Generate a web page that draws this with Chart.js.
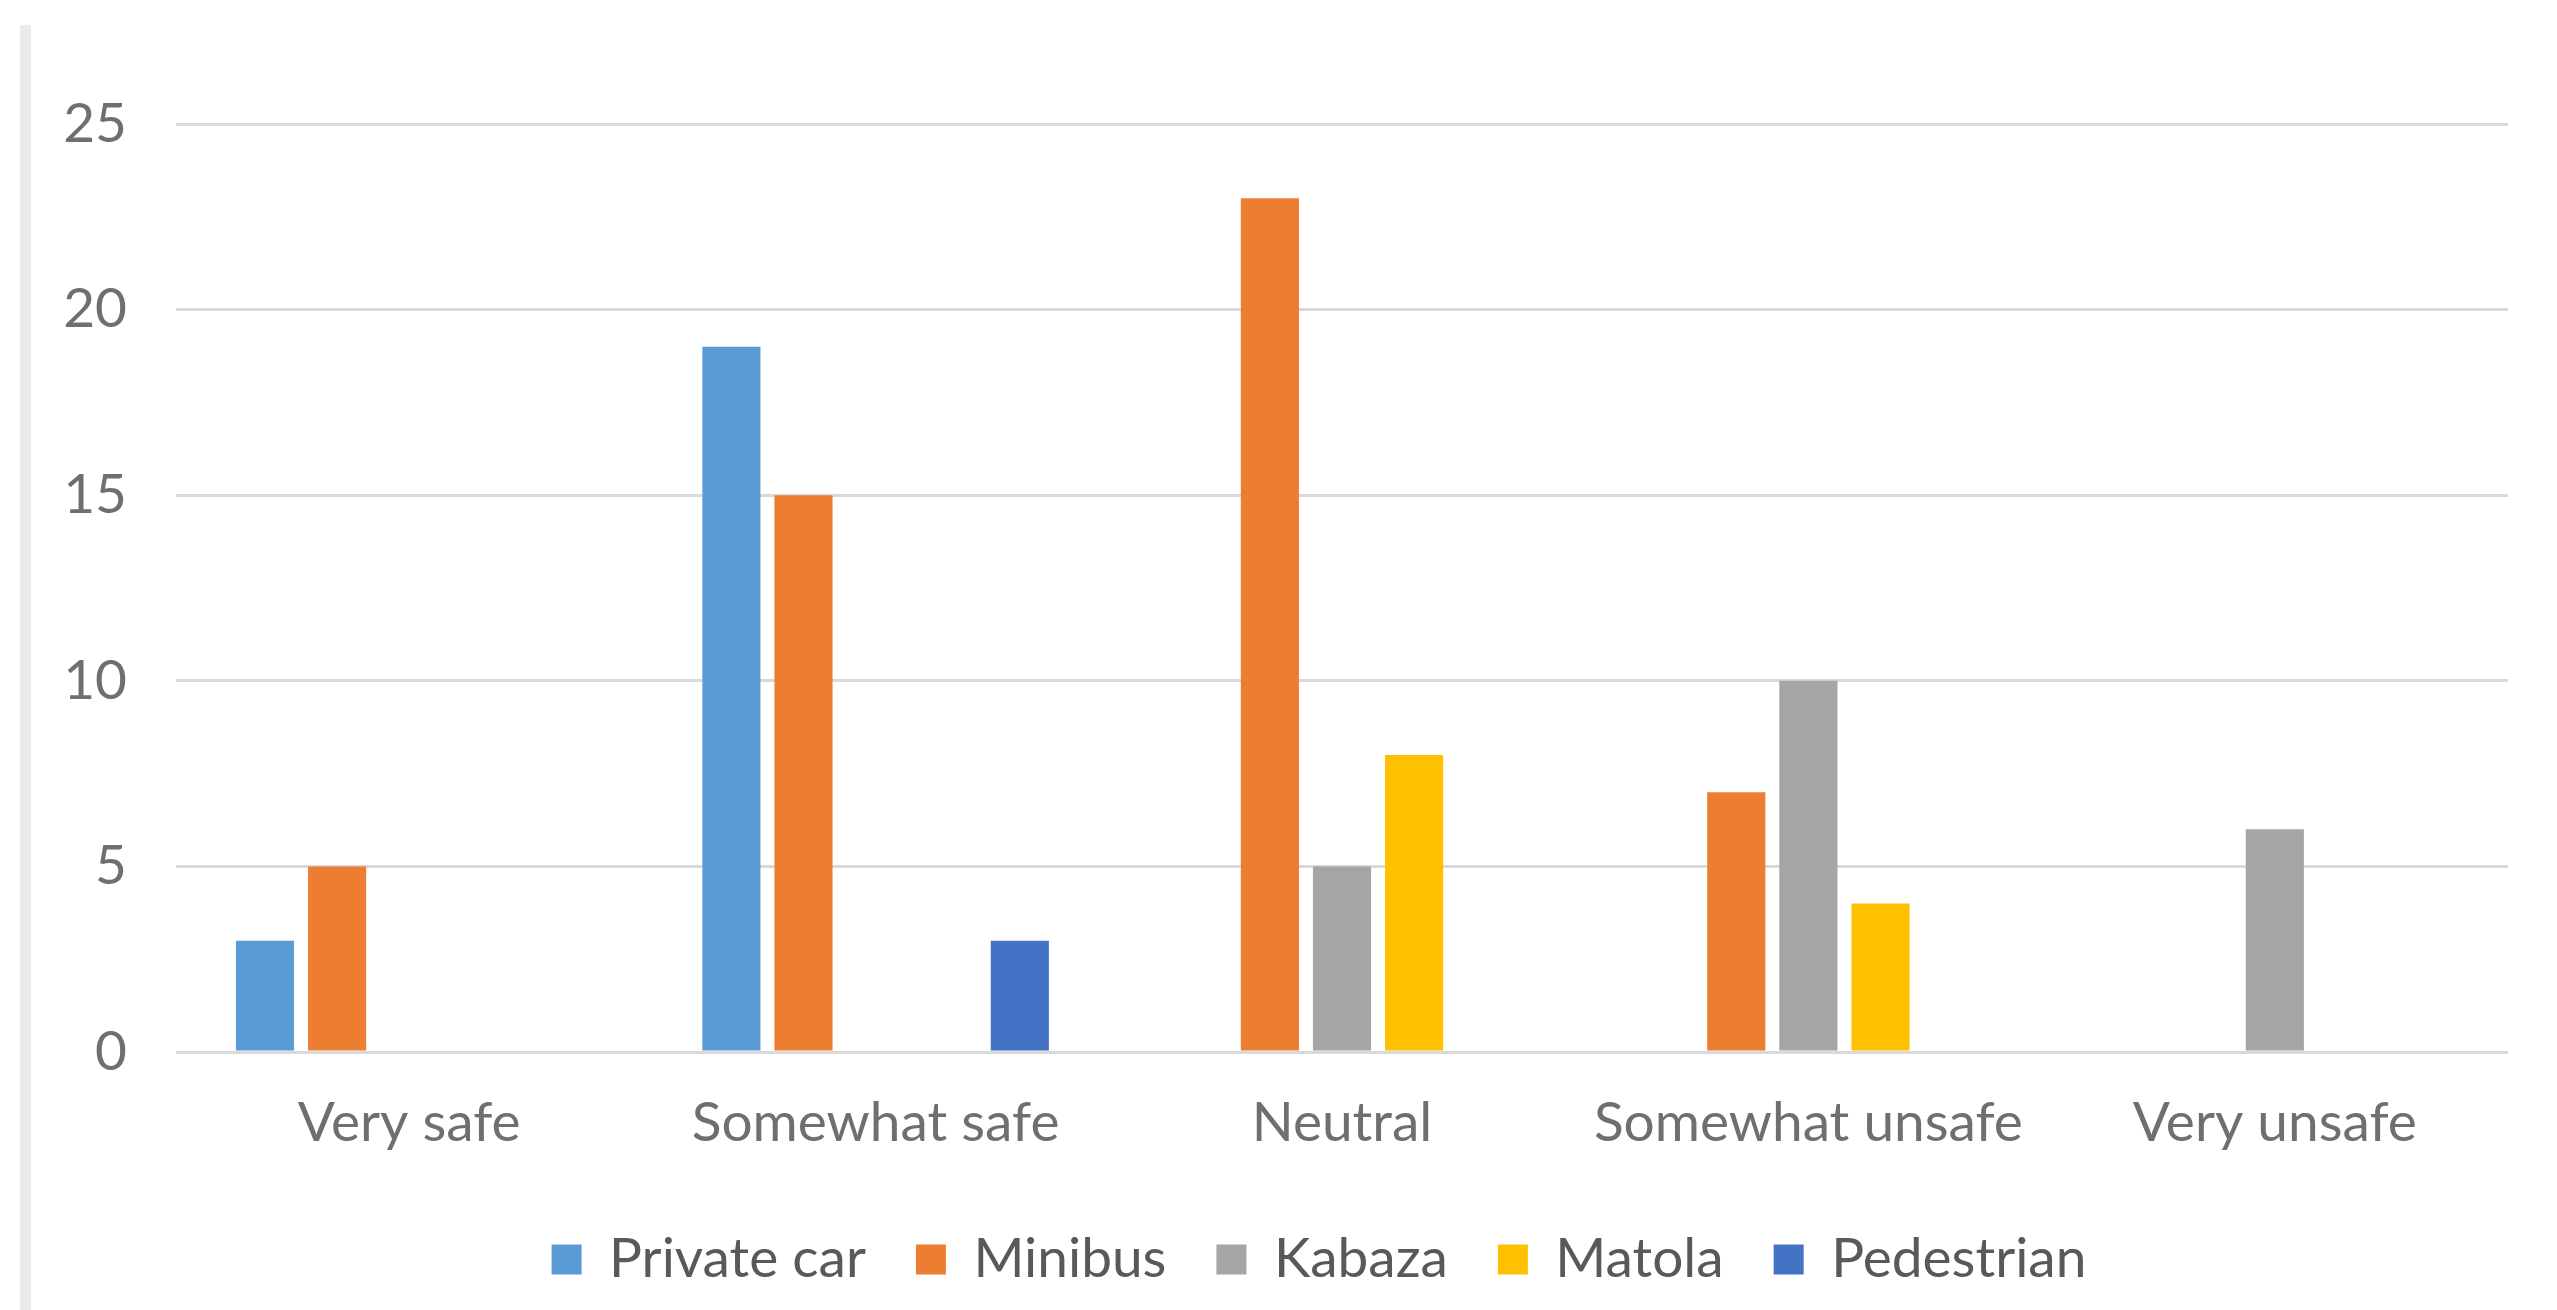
<!DOCTYPE html>
<html>
<head>
<meta charset="utf-8">
<script src="https://cdn.jsdelivr.net/npm/chart.js@4/dist/chart.umd.min.js"></script>
<style>
  html, body { margin: 0; padding: 0; background: #ffffff; }
  #wrap { position: relative; width: 2557px; height: 1310px; }
  #leftbar { position: absolute; left: 20px; top: 25px; width: 11px; height: 1285px; background: #ebebeb; }
  #c { position: absolute; left: 0; top: 0; }
</style>
</head>
<body>
<div id="wrap">
  <div id="leftbar"></div>
  <canvas id="c" width="2557" height="1310"></canvas>
</div>
<script>
const categories = ["Very safe", "Somewhat safe", "Neutral", "Somewhat unsafe", "Very unsafe"];
const seriesNames = ["Private car", "Minibus", "Kabaza", "Matola", "Pedestrian"];
const privateCar = [3, 19, 0, 0, 0];
const minibus    = [5, 15, 23, 7, 0];
const kabaza     = [0, 0, 5, 10, 6];
const matola     = [0, 0, 8, 4, 0];
const pedestrian = [0, 3, 0, 0, 0];
const yTicks = [0, 5, 10, 15, 20, 25];
const colors = ["#5B9BD5", "#ED7D31", "#A5A5A5", "#FFC000", "#4472C4"];

const FONT = "Lato, 'DejaVu Sans Condensed', sans-serif";
const seriesValues = [privateCar, minibus, kabaza, matola, pedestrian];

const datasets = seriesNames.map((name, i) => ({
  label: name,
  data: seriesValues[i],
  backgroundColor: colors[i],
  borderWidth: 0,
  categoryPercentage: 0.773,
  barPercentage: 0.806
}));

const legendShift = {
  id: 'legendShift',
  afterLayout(chart) {
    if (chart.legend) { chart.legend.left += 65; chart.legend.right += 65; }
  }
};

new Chart(document.getElementById('c'), {
  type: 'bar',
  data: { labels: categories, datasets: datasets },
  plugins: [legendShift],
  options: {
    responsive: false,
    animation: false,
    devicePixelRatio: 1,
    layout: { padding: { top: 124, right: 49, left: 0, bottom: 13 } },
    plugins: {
      tooltip: { enabled: false },
      legend: {
        position: 'bottom',
        labels: {
          boxWidth: 30,
          boxHeight: 30,
          padding: 50,
          color: '#595959',
          font: { family: FONT, size: 55 }
        }
      }
    },
    scales: {
      x: {
        afterFit: (scale) => { scale.height -= 12; },
        grid: { display: false, drawTicks: false },
        border: { display: false },
        ticks: { color: '#6f6f6f', padding: 38, maxRotation: 0, minRotation: 0, autoSkip: false, font: { family: FONT, size: 55 } }
      },
      y: {
        min: 0,
        max: 25,
        afterBuildTicks: (scale) => { scale.ticks = yTicks.map(v => ({ value: v })); },
        afterFit: (scale) => { scale.width = 176; },
        grid: { color: '#d9d9d9', lineWidth: 3, drawTicks: false },
        border: { display: false },
        ticks: { color: '#6f6f6f', padding: 49, font: { family: FONT, size: 55 } }
      }
    }
  }
});
</script>
</body>
</html>
